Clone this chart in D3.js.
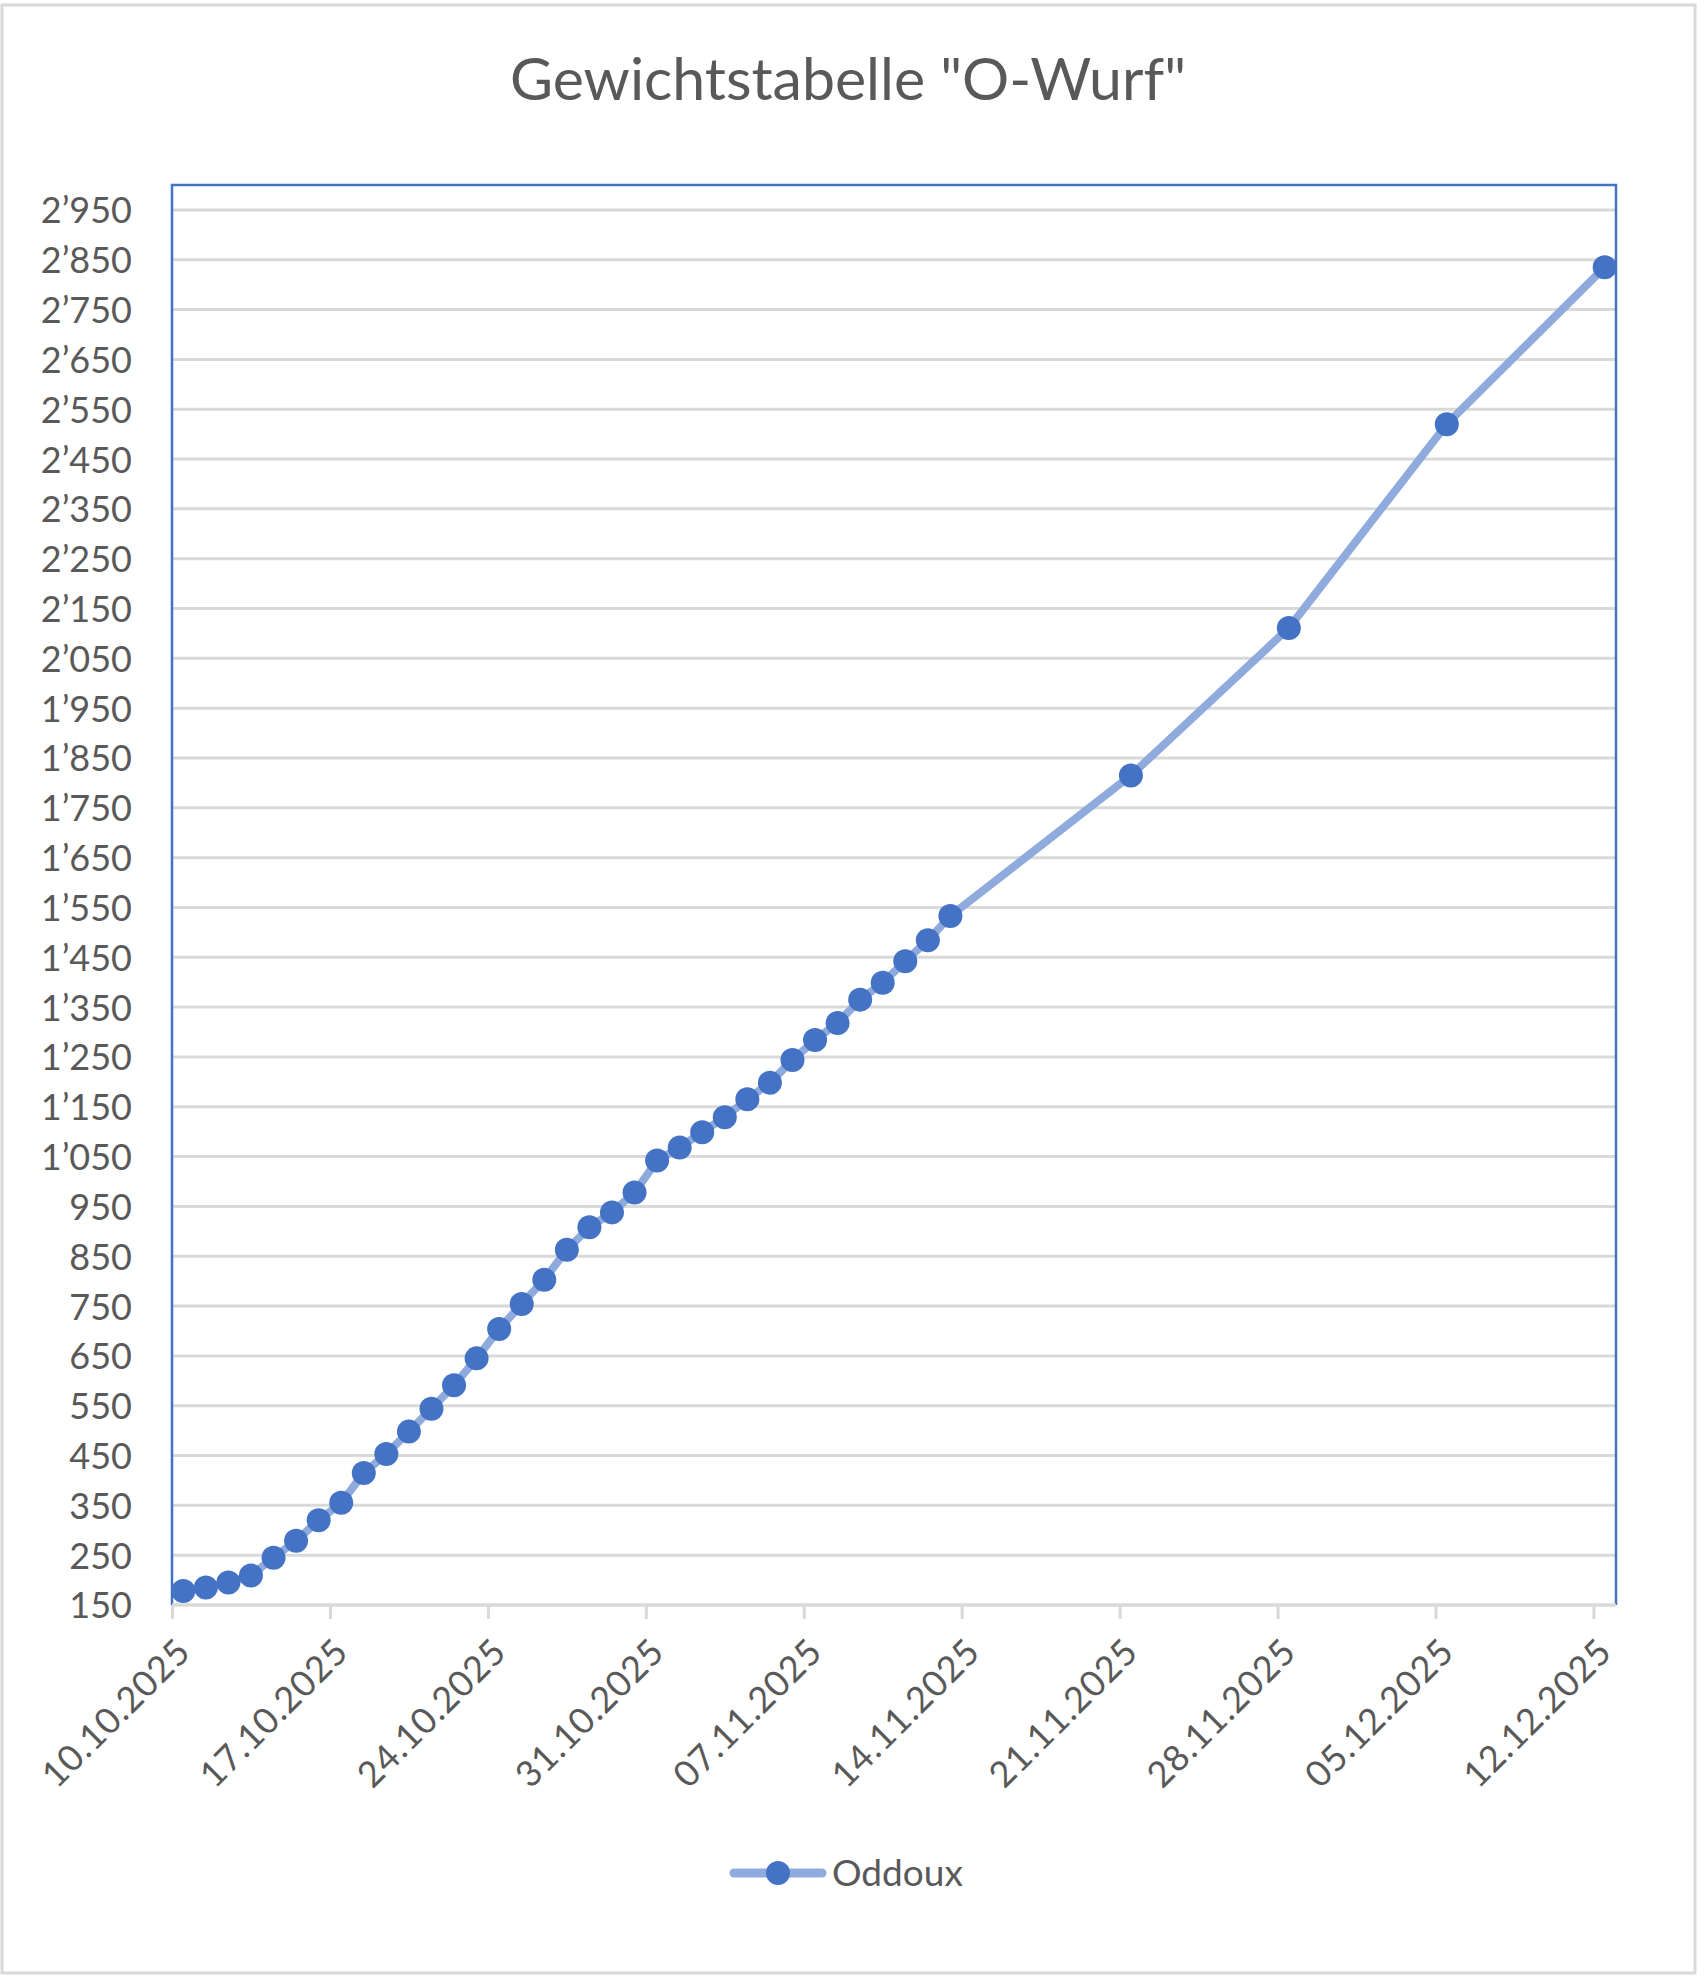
<!DOCTYPE html>
<html>
<head>
<meta charset="utf-8">
<script src="https://cdn.jsdelivr.net/npm/d3@7"></script>
<style>
  html, body { margin: 0; padding: 0; background: #ffffff; }
  svg { display: block; font-family: Lato, "Open Sans", sans-serif; }
</style>
</head>
<body>
<svg id="chart" width="1705" height="1980"></svg>
<script>
// ---------- data ----------
const title = 'Gewichtstabelle "O-Wurf"';
const seriesName = "Oddoux";
const dates = [
  "10.10.2025","11.10.2025","12.10.2025","13.10.2025","14.10.2025","15.10.2025","16.10.2025",
  "17.10.2025","18.10.2025","19.10.2025","20.10.2025","21.10.2025","22.10.2025","23.10.2025",
  "24.10.2025","25.10.2025","26.10.2025","27.10.2025","28.10.2025","29.10.2025","30.10.2025",
  "31.10.2025","01.11.2025","02.11.2025","03.11.2025","04.11.2025","05.11.2025","06.11.2025",
  "07.11.2025","08.11.2025","09.11.2025","10.11.2025","11.11.2025","12.11.2025","13.11.2025",
  "21.11.2025","28.11.2025","05.12.2025","12.12.2025"
];
const weights = [
  178, 185, 195, 209, 245, 279, 320,
  355, 415, 453, 498, 544, 591, 645,
  704, 754, 803, 863, 908, 938, 978,
  1042, 1068, 1099, 1129, 1165, 1198, 1244,
  1284, 1318, 1365, 1399, 1442, 1484, 1533,
  1815, 2111, 2520, 2835
];
const xTickLabels = ["10.10.2025","17.10.2025","24.10.2025","31.10.2025","07.11.2025",
                     "14.11.2025","21.11.2025","28.11.2025","05.12.2025","12.12.2025"];
const xDomainLabels = ["10.10.2025", "13.12.2025"];
const yTickValues = [150,250,350,450,550,650,750,850,950,1050,1150,1250,1350,1450,1550,
                     1650,1750,1850,1950,2050,2150,2250,2350,2450,2550,2650,2750,2850,2950];
const yDomain = [150, 3000];

// ---------- helpers ----------
const parseDate = d3.utcParse("%d.%m.%Y");
const locale = d3.formatLocale({decimal: ".", thousands: "\u2019", grouping: [3], currency: ["", ""]});
const fmt = locale.format(",");
const HALF_DAY = 12 * 3600 * 1000;

// ---------- layout ----------
const plot = {left: 172, right: 1616, top: 185, bottom: 1605};
const textColor = "#595959";
const gridColor = "#d9d9d9";
const lineColor = "#8FAADC";
const markerColor = "#4472C4";

const svg = d3.select("#chart");

// chart area
svg.append("rect")
  .attr("x", 2).attr("y", 5).attr("width", 1693).attr("height", 1968)
  .attr("fill", "#ffffff").attr("stroke", gridColor).attr("stroke-width", 3);

// title
svg.append("text")
  .attr("x", 848).attr("y", 100)
  .attr("text-anchor", "middle")
  .attr("fill", textColor)
  .attr("font-size", 59)
  .text(title);

// scales
const x = d3.scaleUtc()
  .domain(xDomainLabels.map(parseDate))
  .range([plot.left, plot.right]);
const y = d3.scaleLinear()
  .domain(yDomain)
  .range([plot.bottom, plot.top]);

// gridlines
svg.append("g")
  .selectAll("line")
  .data(yTickValues)
  .join("line")
  .attr("x1", plot.left).attr("x2", plot.right)
  .attr("y1", d => y(d)).attr("y2", d => y(d))
  .attr("stroke", gridColor).attr("stroke-width", 3);

// plot area border (left, top, right)
svg.append("path")
  .attr("d", `M${plot.left},${plot.bottom}V${plot.top}H${plot.right}V${plot.bottom}`)
  .attr("fill", "none").attr("stroke", markerColor).attr("stroke-width", 2.5);

// y axis labels
const yAxis = d3.axisLeft(y).tickValues(yTickValues).tickFormat(fmt).tickSize(0).tickPadding(40);
const gy = svg.append("g").attr("transform", `translate(${plot.left},0)`).call(yAxis);
gy.select(".domain").remove();
gy.selectAll("text")
  .attr("fill", textColor).attr("font-size", 36)
  .attr("font-family", "Lato, sans-serif")
  .attr("dy", "0.36em");

// x axis
const xAxis = d3.axisBottom(x).tickValues(xTickLabels.map(parseDate)).tickSize(14)
  .tickFormat(d3.utcFormat("%d.%m.%Y"));
const gx = svg.append("g").attr("transform", `translate(0,${plot.bottom})`).call(xAxis);
gx.select(".domain").attr("stroke", gridColor).attr("stroke-width", 3)
  .attr("d", `M${plot.left},0H${plot.right}`);
gx.selectAll(".tick line").attr("stroke", gridColor).attr("stroke-width", 3);
gx.selectAll(".tick text")
  .attr("fill", textColor).attr("font-size", 36)
  .attr("font-family", "Lato, sans-serif")
  .attr("text-anchor", "end")
  .attr("letter-spacing", 0.8)
  .attr("y", 0).attr("dy", 0)
  .attr("transform", "translate(20,49) rotate(-45)");

// series
const pts = dates.map((d, i) => ({date: new Date(parseDate(d).getTime() + HALF_DAY), v: weights[i]}));
const line = d3.line().x(d => x(d.date)).y(d => y(d.v));
svg.append("path")
  .datum(pts)
  .attr("d", line)
  .attr("fill", "none").attr("stroke", lineColor).attr("stroke-width", 8)
  .attr("stroke-linejoin", "round").attr("stroke-linecap", "round");
svg.append("g")
  .selectAll("circle")
  .data(pts)
  .join("circle")
  .attr("cx", d => x(d.date)).attr("cy", d => y(d.v))
  .attr("r", 12).attr("fill", markerColor);

// legend
const lg = svg.append("g");
lg.append("line").attr("x1", 734).attr("x2", 822).attr("y1", 1873).attr("y2", 1873)
  .attr("stroke", lineColor).attr("stroke-width", 9).attr("stroke-linecap", "round");
lg.append("circle").attr("cx", 778).attr("cy", 1873).attr("r", 12).attr("fill", markerColor);
lg.append("text").attr("x", 832).attr("y", 1873).attr("dy", "0.36em")
  .attr("fill", textColor).attr("font-size", 37).text(seriesName);
</script>
</body>
</html>
